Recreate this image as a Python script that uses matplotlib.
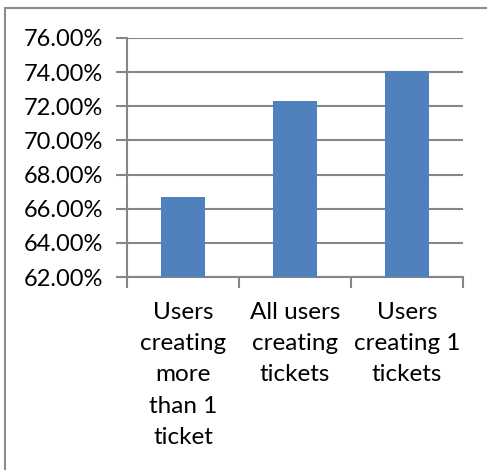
import matplotlib
matplotlib.use("Agg")
import matplotlib.pyplot as plt
from matplotlib.patches import Rectangle

categories = ["Users\ncreating\nmore\nthan 1\nticket",
              "All users\ncreating\ntickets",
              "Users\ncreating 1\ntickets"]
values = [66.67, 72.29, 74.06]
y_ticks = [62, 64, 66, 68, 70, 72, 74, 76]
y_tick_labels = [f"{v:.2f}%" for v in y_ticks]

plt.rcParams['font.family'] = ['Lato', 'DejaVu Sans']
grid_color = "#868686"
bar_color = "#4F81BD"

fig = plt.figure(figsize=(4.87, 4.70), dpi=100)
fig.patch.set_facecolor("white")

# outer chart frame
fig.patches.append(Rectangle((5 / 487, -0.1), 1.2, 1 - 8 / 470 + 0.1,
                             transform=fig.transFigure, fill=False,
                             edgecolor="#8c8c8c", linewidth=1.5))

ax = fig.add_axes([127 / 487, 1 - 277 / 470, 336 / 487, 239 / 470])
x = list(range(len(categories)))
ax.bar(x, values, width=0.4, bottom=0, color=bar_color, zorder=3)

ax.set_xlim(-0.5, 2.5)
ax.set_ylim(62, 76)
ax.set_yticks(y_ticks)
ax.set_yticklabels(y_tick_labels, fontsize=17)
ax.yaxis.grid(True, color=grid_color, linewidth=1.5, zorder=0)

ax.set_xticks(x)
ax.set_xticklabels(categories, fontsize=17.5, linespacing=1.6, ha="center", va="top")
ax.set_xticks([-0.5, 0.5, 1.5, 2.5], minor=True)
ax.tick_params(axis="x", which="major", length=0, pad=18)
ax.tick_params(axis="x", which="minor", length=8, width=1.5, color=grid_color)
ax.tick_params(axis="y", length=8, width=1.5, color=grid_color, pad=9)

for side in ["top", "right"]:
    ax.spines[side].set_visible(False)
for side in ["left", "bottom"]:
    ax.spines[side].set_color(grid_color)
    ax.spines[side].set_linewidth(1.5)

fig.savefig("out.png", dpi=100)
